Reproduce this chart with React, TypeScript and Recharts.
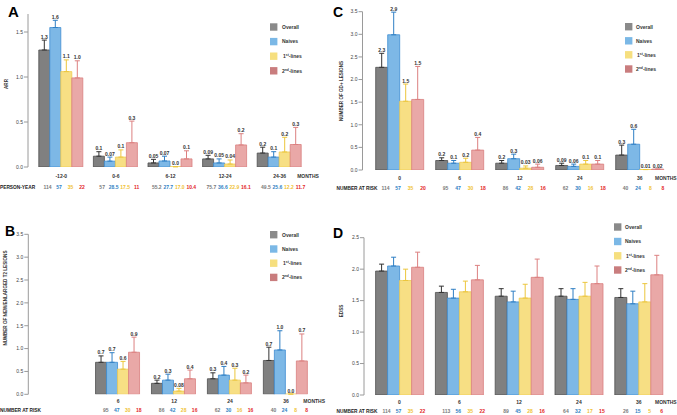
import React from 'react';
import { BarChart, Bar, XAxis, YAxis, ErrorBar, LabelList } from 'recharts';

const FONT = '"Liberation Sans", Arial, sans-serif';

// ---------- Series ----------
const SERIES = [
  { key: 'o', name: 'Overall', fill: '#808080', stroke: '#4f4f4f', err: '#333333', risk: '#7a7a7a', legend: '#8a8a8a' },
  { key: 'n', name: 'Naives', fill: '#7db8e6', stroke: '#3f8dd2', err: '#2f7fc4', risk: '#2f7fc4', legend: '#7bb8e6' },
  { key: 'f', name: '1st-lines', fill: '#f7df84', stroke: '#efcc50', err: '#ecc63d', risk: '#f0c233', legend: '#f6df7f' },
  { key: 's', name: '2nd-lines', fill: '#e9a8a7', stroke: '#d98080', err: '#dc8080', risk: '#e32626', legend: '#c97d7e' },
];

// ---------- Panel A: ARR ----------
const aCats = ['-12-0', '0-6', '6-12', '12-24', '24-36'];
const aOverall = [1.3, 0.12, 0.045, 0.09, 0.155];
const aNaives = [1.55, 0.065, 0.067, 0.045, 0.11];
const aFirst = [1.06, 0.11, 0.003, 0.033, 0.167];
const aSecond = [0.99, 0.27, 0.09, 0.245, 0.25];
const aOverallErr = [0.11, 0.05, 0.04, 0.04, 0.065];
const aNaivesErr = [0.08, 0.045, 0.053, 0.045, 0.06];
const aFirstErr = [0.13, 0.08, 0, 0.045, 0.163];
const aSecondErr = [0.19, 0.24, 0.09, 0.125, 0.19];
const aOverallLbl = ['1.3', '0.1', '0.05', '0.09', '0.2'];
const aNaivesLbl = ['1.6', '0.07', '0.07', '0.05', '0.1'];
const aFirstLbl = ['1.1', '0.1', '0.0', '0.04', '0.2'];
const aSecondLbl = ['1.0', '0.3', '0.1', '0.2', '0.3'];
const aRiskOverall = ['114', '57', '55.2', '75.7', '49.5'];
const aRiskNaives = ['57', '28.5', '27.7', '36.6', '25.6'];
const aRiskFirst = ['35', '17.5', '17.0', '22.9', '12.2'];
const aRiskSecond = ['22', '11', '10.4', '16.1', '11.7'];
const aTicks = [0, 0.5, 1, 1.5];

// ---------- Panel B: new/enlarged T2 ----------
const bCats = ['0', '6', '12', '24', '36'];
const bOverall = [0, 0.7, 0.24, 0.34, 0.74];
const bNaives = [0, 0.7, 0.31, 0.42, 0.97];
const bFirst = [0, 0.55, 0.07, 0.31, 0.005];
const bSecond = [0, 0.92, 0.34, 0.25, 0.73];
const bOverallErr = [null, 0.14, 0.07, 0.13, 0.29];
const bNaivesErr = [null, 0.21, 0.13, 0.19, 0.42];
const bFirstErr = [null, 0.17, 0.06, 0.26, 0];
const bSecondErr = [null, 0.33, 0.19, 0.17, 0.59];
const bOverallLbl = [null, '0.7', '0.2', '0.3', '0.7'];
const bNaivesLbl = [null, '0.7', '0.3', '0.4', '1.0'];
const bFirstLbl = [null, '0.6', '0.08', '0.3', '0.0'];
const bSecondLbl = [null, '0.9', '0.4', '0.2', '0.7'];
const bRiskOverall = [null, '95', '86', '62', '40'];
const bRiskNaives = [null, '47', '42', '30', '24'];
const bRiskFirst = [null, '30', '28', '16', '8'];
const bRiskSecond = [null, '18', '16', '16', '8'];
const bTicks = [0, 0.5, 1, 1.5, 2, 2.5, 3, 3.5];

// ---------- Panel C: Gd+ lesions ----------
const cCats = ['0', '6', '12', '24', '36'];
const cOverall = [2.27, 0.21, 0.15, 0.1, 0.33];
const cNaives = [2.99, 0.15, 0.25, 0.08, 0.57];
const cFirst = [1.52, 0.17, 0.04, 0.13, 0.01];
const cSecond = [1.56, 0.44, 0.06, 0.13, 0.02];
const cOverallErr = [0.31, 0.06, 0.06, 0.05, 0.22];
const cNaivesErr = [0.5, 0.06, 0.1, 0.05, 0.33];
const cFirstErr = [0.38, 0.09, 0.05, 0.08, 0];
const cSecondErr = [0.73, 0.28, 0.07, 0.08, 0];
const cOverallLbl = ['2.3', '0.2', '0.2', '0.09', '0.3'];
const cNaivesLbl = ['2.9', '0.1', '0.3', '0.06', '0.6'];
const cFirstLbl = ['1.5', '0.2', '0.03', '0.1', '0.01'];
const cSecondLbl = ['1.5', '0.4', '0.06', '0.1', '0.02'];
const cRiskOverall = ['114', '95', '86', '62', '40'];
const cRiskNaives = ['57', '47', '42', '30', '24'];
const cRiskFirst = ['35', '30', '28', '16', '8'];
const cRiskSecond = ['20', '18', '16', '18', '8'];
const cTicks = [0, 0.5, 1, 1.5, 2, 2.5, 3, 3.5];

// ---------- Panel D: EDSS ----------
const dCats = ['0', '6', '12', '24', '36'];
const dOverall = [1.97, 1.63, 1.57, 1.57, 1.55];
const dNaives = [2.05, 1.54, 1.48, 1.52, 1.45];
const dFirst = [1.82, 1.64, 1.54, 1.57, 1.48];
const dSecond = [2.03, 1.83, 1.87, 1.77, 1.91];
const dOverallErr = [0.11, 0.1, 0.12, 0.12, 0.14];
const dNaivesErr = [0.14, 0.14, 0.17, 0.17, 0.2];
const dFirstErr = [0.18, 0.17, 0.22, 0.22, 0.29];
const dSecondErr = [0.24, 0.23, 0.29, 0.28, 0.31];
const dRiskOverall = ['114', '113', '89', '64', '26'];
const dRiskNaives = ['57', '56', '45', '32', '15'];
const dRiskFirst = ['35', '35', '28', '17', '5'];
const dRiskSecond = ['22', '22', '16', '15', '6'];
const dTicks = [0, 0.5, 1, 1.5, 2, 2.5];

function buildRows(cats: string[], vals: any[][], errs: any[][], lbls: any[][] | null) {
  return cats.map((c, i) => {
    const r: any = { cat: c };
    SERIES.forEach((s, k) => {
      r[s.key] = vals[k][i];
      r[s.key + 'E'] = errs[k][i] == null ? null : [0, errs[k][i]];
      r[s.key + 'L'] = lbls ? lbls[k][i] : null;
    });
    return r;
  });
}

const PANELS = [
  {
    id: 'A', left: 0, top: 0, width: 340, height: 200, mTop: 14, mRight: 33, yW: 28, xH: 33, padL: 6, gap: 4.8,
    max: 1.7, ticks: aTicks, cats: aCats,
    rows: buildRows(aCats, [aOverall, aNaives, aFirst, aSecond], [aOverallErr, aNaivesErr, aFirstErr, aSecondErr], [aOverallLbl, aNaivesLbl, aFirstLbl, aSecondLbl]),
    risk: [aRiskOverall, aRiskNaives, aRiskFirst, aRiskSecond],
    catDy: 10.5, riskDy: 22, monthsDx: 17.5, riskStep: 11.5, riskShift: 3.5,
  },
  {
    id: 'C', left: 340, top: 0, width: 337, height: 200, mTop: 11.7, mRight: 7.3, yW: 22.5, xH: 30, padL: 7.2, gap: 6,
    max: 3.5, ticks: cTicks, cats: cCats,
    rows: buildRows(cCats, [cOverall, cNaives, cFirst, cSecond], [cOverallErr, cNaivesErr, cFirstErr, cSecondErr], [cOverallLbl, cNaivesLbl, cFirstLbl, cSecondLbl]),
    risk: [cRiskOverall, cRiskNaives, cRiskFirst, cRiskSecond],
    catDy: 10, riskDy: 20, monthsDx: 15.3, riskStep: 12.5, riskShift: 4.5,
  },
  {
    id: 'B', left: 0, top: 200, width: 340, height: 215, mTop: 34.3, mRight: 26, yW: 28.3, xH: 20.7, padL: 6, gap: 5.3,
    max: 3.5, ticks: bTicks, cats: bCats,
    rows: buildRows(bCats, [bOverall, bNaives, bFirst, bSecond], [bOverallErr, bNaivesErr, bFirstErr, bSecondErr], [bOverallLbl, bNaivesLbl, bFirstLbl, bSecondLbl]),
    risk: [bRiskOverall, bRiskNaives, bRiskFirst, bRiskSecond],
    catDy: 8.4, riskDy: 17.4, monthsDx: 17.3, riskStep: 11, riskShift: 4,
  },
  {
    id: 'D', left: 340, top: 200, width: 337, height: 215, mTop: 37.7, mRight: 8.4, yW: 24, xH: 20, padL: 5.6, gap: 6,
    max: 2.5, ticks: dTicks, cats: dCats,
    rows: buildRows(dCats, [dOverall, dNaives, dFirst, dSecond], [dOverallErr, dNaivesErr, dFirstErr, dSecondErr], null),
    risk: [dRiskOverall, dRiskNaives, dRiskFirst, dRiskSecond],
    catDy: 9.4, riskDy: 17.7, monthsDx: 16.3, riskStep: 12, riskShift: 5,
  },
];

function Panel({ cfg }: { cfg: any }) {
  const plotH = cfg.height - cfg.mTop - cfg.xH;
  const ppu = plotH / cfg.max;
  const last = cfg.cats.length - 1;

  const tick = (p: any) => {
    const { x, y, payload } = p;
    const i = p.index != null ? p.index : payload.index;
    if (cfg.risk[0][i] == null) return <g />;
    return (
      <g fontFamily={FONT}>
        <text x={x} y={y + cfg.catDy} textAnchor="middle" fontSize={5} fontWeight="bold" fill="#333">{payload.value}</text>
        {i === last && (
          <text x={x + cfg.monthsDx} y={y + cfg.catDy} textAnchor="start" fontSize={5} fontWeight="bold" fill="#333">MONTHS</text>
        )}
        {SERIES.map((s, k) => (
          <text key={s.key} x={x + (k - 1.5) * cfg.riskStep + cfg.riskShift} y={y + cfg.riskDy} textAnchor="middle" fontSize={5} fontWeight="bold" fill={s.risk}>
            {cfg.risk[k][i]}
          </text>
        ))}
      </g>
    );
  };

  // The label value is the whole row, so the label text and the error size come from the same entry.
  const labelFor = (key: string) => (p: any) => {
    const { x, y, width, value } = p;
    const row = value;
    if (!row || typeof row !== 'object' || row[key + 'L'] == null) return null;
    const e = row[key + 'E'] ? row[key + 'E'][1] : 0;
    return (
      <text x={Number(x) + Number(width) / 2} y={Number(y) - e * ppu - 1.5} textAnchor="middle" fontSize={5} fontWeight="bold" fill="#333" fontFamily={FONT}>
        {row[key + 'L']}
      </text>
    );
  };

  return (
    <div style={{ position: 'absolute', left: cfg.left, top: cfg.top, width: cfg.width, height: cfg.height }}>
      <BarChart
        width={cfg.width}
        height={cfg.height}
        data={cfg.rows}
        margin={{ top: cfg.mTop, right: cfg.mRight, left: 0, bottom: 0 }}
        barCategoryGap={cfg.gap}
        barGap={0}
        style={{ overflow: 'visible' }}
      >
        <XAxis
          dataKey="cat"
          interval={0}
          tickLine={false}
          axisLine={false}
          tickSize={0}
          tickMargin={0}
          height={cfg.xH}
          padding={{ left: cfg.padL, right: 0 }}
          tick={tick}
        />
        <YAxis
          type="number"
          domain={[0, cfg.max]}
          ticks={cfg.ticks}
          allowDataOverflow
          width={cfg.yW}
          tickSize={4}
          tickMargin={1}
          stroke="#9a9a9a"
          tick={{ fontSize: 5, fill: '#444', fontFamily: FONT }}
          tickFormatter={(v: number) => v.toFixed(1)}
        />
        {SERIES.map((s) => (
          <Bar key={s.key} dataKey={s.key} name={s.name} fill={s.fill} stroke={s.stroke} strokeWidth={0.8} isAnimationActive={false}>
            <ErrorBar dataKey={s.key + 'E'} direction="y" width={2.5} stroke={s.err} strokeWidth={1} isAnimationActive={false} />
            {cfg.id !== 'D' && <LabelList dataKey={(r: any) => r} content={labelFor(s.key)} />}
          </Bar>
        ))}
      </BarChart>
    </div>
  );
}

const LEGENDS = [
  { sq: 270, tx: 282, ys: [27, 41.6, 56.2, 70.8] },
  { sq: 625, tx: 636, ys: [26.7, 40.8, 54.8, 69] },
  { sq: 270, tx: 282, ys: [234.7, 249, 263.2, 277.4] },
  { sq: 614, tx: 625, ys: [227, 241.5, 255.8, 270] },
];

function legendLabel(name: string) {
  const m = name.match(/^(\d)(st|nd)(-lines)$/);
  if (!m) return name;
  return (
    <>
      {m[1]}
      <tspan dy={-1.8} fontSize={3.4}>{m[2]}</tspan>
      <tspan dy={1.8}>{m[3]}</tspan>
    </>
  );
}

const TITLES = [
  { x: 8, y: 84, text: 'ARR' },
  { x: 342.5, y: 91, text: 'NUMBER OF GD+ LESIONS' },
  { x: 7, y: 298, text: 'NUMBER OF NEW/ENLARGED T2 LESIONS' },
  { x: 342.5, y: 311, text: 'EDSS' },
];

const ROW_LABELS = [
  { x: 0, y: 189, text: 'PERSON-YEAR' },
  { x: 336.5, y: 190, text: 'NUMBER AT RISK' },
  { x: 0, y: 411.7, text: 'NUMBER AT RISK' },
  { x: 336.5, y: 412.7, text: 'NUMBER AT RISK' },
];

const LETTERS = [
  { x: 8, y: 17, text: 'A', size: 15 },
  { x: 5, y: 236, text: 'B', size: 14 },
  { x: 333, y: 17, text: 'C', size: 14 },
  { x: 333, y: 238, text: 'D', size: 14 },
];

function Overlay() {
  return (
    <svg width={677} height={415} style={{ position: 'absolute', left: 0, top: 0, pointerEvents: 'none' }} fontFamily={FONT}>
      {LETTERS.map((l) => (
        <text key={l.text} x={l.x} y={l.y} fontSize={l.size} fontWeight="bold" fill="#000">{l.text}</text>
      ))}
      {TITLES.map((t) => (
        <text key={t.text} transform={`translate(${t.x},${t.y}) rotate(-90)`} textAnchor="middle" fontSize={4.6} fontWeight="bold" fill="#333">{t.text}</text>
      ))}
      {ROW_LABELS.map((r, i) => (
        <text key={i} x={r.x} y={r.y} fontSize={4.8} fontWeight="bold" fill="#222">{r.text}</text>
      ))}
      {LEGENDS.map((lg, i) => (
        <g key={i}>
          {SERIES.map((s, k) => (
            <g key={s.key}>
              <rect x={lg.sq} y={lg.ys[k] - 3.7} width={7.4} height={7.4} fill={s.legend} />
              <text x={lg.tx + (k === 2 ? 1 : 0)} y={lg.ys[k] + 1.8} fontSize={5} fontWeight="bold" fill="#333">
                {legendLabel(s.name)}
              </text>
            </g>
          ))}
        </g>
      ))}
    </svg>
  );
}

export default function App() {
  return (
    <div style={{ position: 'absolute', left: 0, top: 0, width: 677, height: 415, background: '#fff', overflow: 'hidden' }}>
      {PANELS.map((p) => (
        <Panel key={p.id} cfg={p} />
      ))}
      <Overlay />
    </div>
  );
}
